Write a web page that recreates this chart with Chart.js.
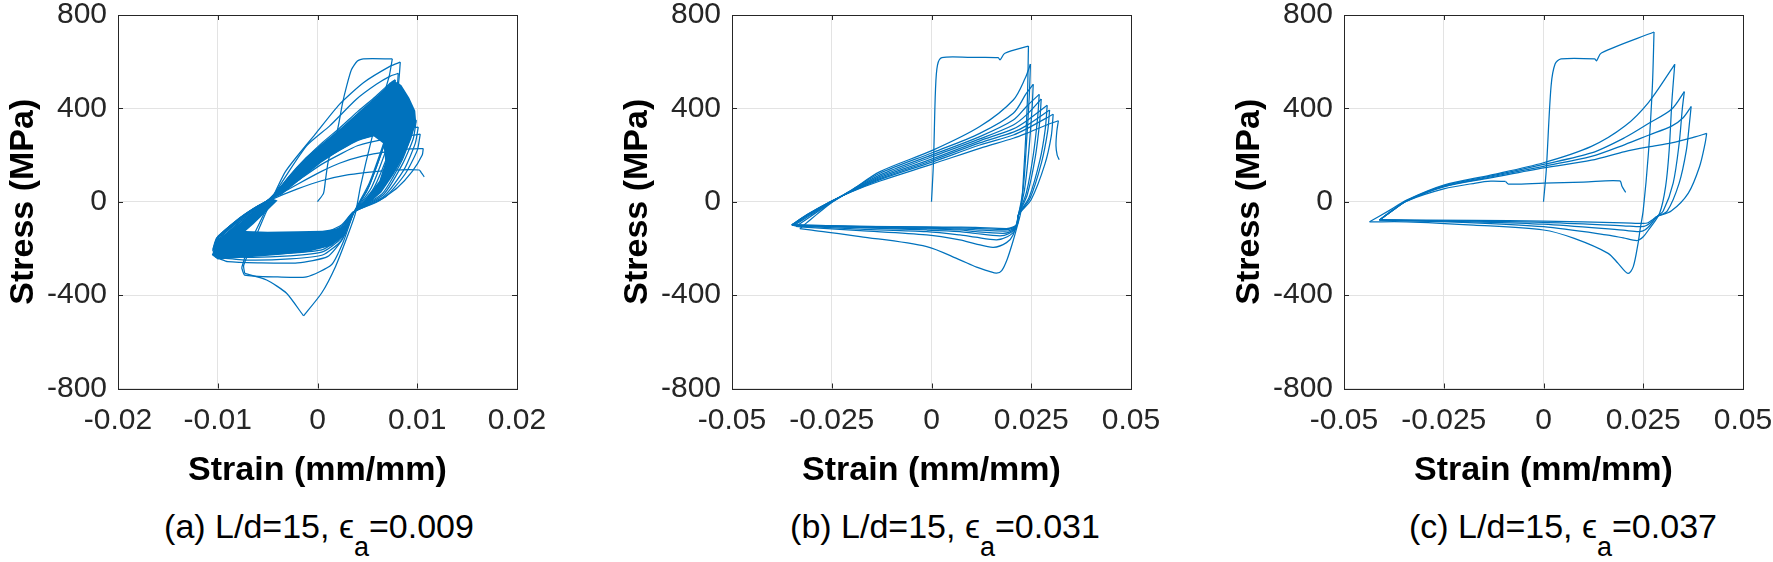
<!DOCTYPE html>
<html>
<head>
<meta charset="utf-8">
<script src="https://cdn.jsdelivr.net/npm/chart.js@4.4.0/dist/chart.umd.min.js"></script>
<style>
  html, body { margin: 0; padding: 0; background: #fff; overflow: hidden; }
  body { width: 1773px; height: 562px; position: relative; font-family: "Liberation Sans", Arial, Helvetica, sans-serif; }
  canvas.panel { position: absolute; top: -20px; }
  .caption { position: absolute; top: 509px; font-size: 34px; line-height: 34px; color: #000; white-space: nowrap; transform: translateX(-50%); }
  .caption .sub { font-size: 27px; position: relative; top: 18px; }
</style>
</head>
<body>
<canvas id="panelA" class="panel"></canvas>
<canvas id="panelB" class="panel"></canvas>
<canvas id="panelC" class="panel"></canvas>
<script>
// tick labels
const stressTicks = [-800, -400, 0, 400, 800];
const strainTicksA = [-0.02, -0.01, 0, 0.01, 0.02];
const strainTicksBC = [-0.05, -0.025, 0, 0.025, 0.05];

// captions
const panelTags = ['(a)', '(b)', '(c)'];
const slenderness = [15, 15, 15];
const strainAmplitude = ['0.009', '0.031', '0.037'];

// ---- panel (a): [strain, stress] ----
const aLoading = [[0,0],[0.0006,36],[0.0008,93],[0.0011,178],[0.0020,307],[0.0025,420],[0.0029,492],[0.0034,565],[0.0040,603],[0.0046,612],[0.0075,612]];
const aFirstCompression = [[0.0075,612],[0.0072,540],[0.0065,435],[0.0054,264],[0.0043,64],[0.0038,-50],[0.0031,-136],[0.0018,-278],[0.0004,-392],[-0.0014,-489]];
const aBuckle = [[-0.0014,-489],[-0.0031,-392],[-0.0051,-335],[-0.0073,-307]];
const aUnload = [
  [[0.0083,598],[0.0081,500],[0.0070,300],[0.0052,80],[0.0036,-50],[0.0026,-170],[0.0014,-270],[-0.0011,-322],[-0.0040,-322],[-0.0073,-314],[-0.0076,-283]],
  [[0.0081,550],[0.0079,450],[0.0068,260],[0.0050,50],[0.0036,-50],[0.0025,-160],[0.0010,-235],[-0.0020,-262],[-0.0060,-262],[-0.0090,-257],[-0.0098,-245]],
  [[0.0078,522],[0.0076,420],[0.0068,260],[0.0052,70],[0.0036,-50],[0.0024,-165],[0.0005,-228],[-0.0028,-245],[-0.0070,-250],[-0.0102,-238]],
  [[0.0082,505],[0.0080,400],[0.0071,250],[0.0054,60],[0.0036,-50],[0.0024,-155],[0.0005,-215],[-0.0028,-232],[-0.0070,-238],[-0.0103,-228]],
  [[0.0086,475],[0.0084,380],[0.0074,240],[0.0056,55],[0.0036,-48],[0.0024,-148],[0.0005,-205],[-0.0028,-220],[-0.0070,-228],[-0.0104,-220]],
  [[0.0090,445],[0.0088,360],[0.0078,225],[0.0058,45],[0.0036,-48],[0.0024,-140],[0.0005,-195],[-0.0028,-210],[-0.0070,-218],[-0.0105,-212]],
  [[0.0094,412],[0.0092,330],[0.0082,200],[0.0062,40],[0.0036,-46],[0.0024,-132],[0.0005,-185],[-0.0028,-200],[-0.0070,-208],[-0.0105,-205]],
  [[0.0097,380],[0.0095,300],[0.0085,180],[0.0065,35],[0.0036,-45],[0.0024,-125],[0.0005,-175],[-0.0028,-190],[-0.0070,-198],[-0.0104,-200]],
  [[0.0099,350],[0.0096,270],[0.0085,160],[0.0066,30],[0.0036,-45],[0.0024,-118],[0.0005,-165],[-0.0028,-180],[-0.0070,-190],[-0.0103,-198]],
  [[0.0101,320],[0.0098,250],[0.0087,140],[0.0067,25],[0.0036,-44],[0.0024,-110],[0.0005,-155],[-0.0028,-170],[-0.0070,-182],[-0.0102,-195]],
  [[0.0103,290],[0.0100,220],[0.0088,120],[0.0068,20],[0.0036,-44],[0.0024,-105],[0.0005,-145],[-0.0028,-160],[-0.0070,-175],[-0.0100,-192]],
  [[0.0106,228],[0.0105,200],[0.0095,130],[0.0080,60],[0.0060,0],[0.0036,-43],[0.0024,-100],[0.0005,-135],[-0.0028,-150],[-0.0070,-168],[-0.0098,-188]]
];
const aReload = [
  [[-0.0073,-307],[-0.0074,-272],[-0.0062,-150],[-0.0051,-40],[-0.0032,130],[-0.0001,296],[0.0022,417],[0.0046,510],[0.0073,581],[0.0083,598]],
  [[-0.0076,-283],[-0.0070,-200],[-0.0058,-90],[-0.0045,20],[-0.0011,239],[0.0012,324],[0.0039,439],[0.0059,503],[0.0073,538],[0.0081,550]],
  [[-0.0098,-245],[-0.0095,-180],[-0.0078,-95],[-0.0060,-35],[-0.0045,25],[-0.0020,150],[0.0004,250],[0.0022,315],[0.0040,385],[0.0058,450],[0.0072,505],[0.0078,522]],
  [[-0.0102,-238],[-0.0098,-175],[-0.0079,-92],[-0.0061,-34],[-0.0046,22],[-0.0020,142],[0.0004,240],[0.0022,300],[0.0040,370],[0.0058,435],[0.0074,490],[0.0082,505]],
  [[-0.0103,-228],[-0.0099,-170],[-0.0079,-90],[-0.0061,-33],[-0.0046,20],[-0.0020,135],[0.0004,228],[0.0022,288],[0.0040,352],[0.0060,418],[0.0078,462],[0.0086,475]],
  [[-0.0104,-220],[-0.0100,-165],[-0.0080,-88],[-0.0062,-32],[-0.0046,18],[-0.0020,128],[0.0004,220],[0.0022,276],[0.0040,335],[0.0060,395],[0.0080,435],[0.0090,445]],
  [[-0.0105,-212],[-0.0101,-160],[-0.0080,-86],[-0.0062,-30],[-0.0046,16],[-0.0020,122],[0.0004,210],[0.0022,264],[0.0040,318],[0.0062,372],[0.0084,402],[0.0094,412]],
  [[-0.0105,-205],[-0.0101,-155],[-0.0081,-84],[-0.0063,-30],[-0.0047,15],[-0.0020,115],[0.0004,200],[0.0022,250],[0.0040,300],[0.0064,345],[0.0088,372],[0.0097,380]],
  [[-0.0104,-200],[-0.0100,-150],[-0.0081,-82],[-0.0063,-28],[-0.0047,14],[-0.0020,108],[0.0004,188],[0.0022,235],[0.0040,280],[0.0066,320],[0.0090,342],[0.0099,350]],
  [[-0.0103,-198],[-0.0099,-148],[-0.0081,-80],[-0.0063,-27],[-0.0047,13],[-0.0020,100],[0.0004,175],[0.0022,220],[0.0040,262],[0.0068,295],[0.0092,314],[0.0101,320]],
  [[-0.0102,-195],[-0.0098,-146],[-0.0081,-79],[-0.0063,-26],[-0.0047,12],[-0.0020,90],[0.0004,160],[0.0022,202],[0.0040,240],[0.0070,270],[0.0094,284],[0.0103,290]],
  [[-0.0100,-192],[-0.0096,-143],[-0.0080,-78],[-0.0062,-25],[-0.0047,10],[-0.0020,75],[0.0004,130],[0.0022,165],[0.0045,195],[0.0070,215],[0.0093,226],[0.0106,228]]
];
const aLast = [[-0.0098,-188],[-0.0094,-140],[-0.0079,-76],[-0.0062,-24],[-0.0047,8],[-0.0020,55],[0.0004,90],[0.0030,115],[0.0060,130],[0.0076,136],[0.0102,136],[0.0104,125],[0.0107,107]];
// solid areas where the many later cycles pile up
const aDenseUpper = [[-0.0046,15],[-0.0030,105],[-0.0012,190],[0.0006,255],[0.0024,318],[0.0042,388],[0.0060,455],[0.0076,520],[0.0084,500],[0.0092,445],[0.0098,390],[0.0099,340],[0.0094,270],[0.0086,190],[0.0076,115],[0.0064,40],[0.0048,-20],[0.0036,-48],[0.0050,20],[0.0062,90],[0.0068,170],[0.0066,250],[0.0056,282],[0.0040,262],[0.0022,218],[0.0004,168],[-0.0018,92],[-0.0036,30]];
const aDenseLower = [[-0.0106,-228],[-0.0100,-165],[-0.0093,-140],[-0.0078,-92],[-0.0062,-35],[-0.0046,15],[-0.0040,5],[-0.0052,-45],[-0.0064,-95],[-0.0072,-125],[-0.0050,-128],[-0.0020,-126],[0.0005,-124],[0.0020,-115],[0.0030,-100],[0.0028,-140],[0.0014,-188],[-0.0010,-215],[-0.0040,-228],[-0.0075,-240],[-0.0100,-247]];

// ---- panel (b) ----
const bLoading = [[0,0],[0.0005,172],[0.0010,480],[0.0015,585],[0.0026,617],[0.0100,618],[0.0167,617],[0.0172,608],[0.0184,636],[0.0243,667]];
const bUnload = [
  [[0.0243,667],[0.0240,420],[0.0232,150],[0.0224,-40],[0.0214,-110],[0.0205,-165],[0.0190,-245],[0.0176,-295],[0.0163,-306],[0.0145,-298],[0.0113,-280],[0.0071,-249],[-0.0012,-192],[-0.0179,-149],[-0.0300,-122],[-0.0330,-115]],
  [[0.0248,590],[0.0245,450],[0.0238,250],[0.0230,60],[0.0218,-56],[0.0205,-140],[0.0188,-175],[0.0155,-195],[0.0110,-180],[0.0071,-163],[-0.0012,-142],[-0.0179,-124],[-0.0321,-109],[-0.0340,-106]],
  [[0.0255,503],[0.0252,400],[0.0244,220],[0.0233,50],[0.0218,-56],[0.0210,-120],[0.0190,-150],[0.0163,-163],[0.0110,-152],[0.0071,-142],[-0.0012,-128],[-0.0179,-117],[-0.0330,-104],[-0.0345,-102]],
  [[0.0270,460],[0.0266,360],[0.0255,200],[0.0238,40],[0.0218,-56],[0.0212,-110],[0.0192,-138],[0.0171,-146],[0.0110,-136],[0.0071,-128],[-0.0012,-121],[-0.0179,-111],[-0.0348,-101]],
  [[0.0275,440],[0.0271,340],[0.0260,190],[0.0240,30],[0.0218,-56],[0.0213,-105],[0.0195,-130],[0.0178,-135],[0.0110,-128],[0.0071,-121],[-0.0012,-116],[-0.0179,-110],[-0.0350,-100]],
  [[0.0290,413],[0.0285,310],[0.0272,180],[0.0245,20],[0.0218,-56],[0.0214,-100],[0.0198,-122],[0.0182,-126],[0.0110,-120],[0.0071,-116],[-0.0012,-113],[-0.0179,-108],[-0.0350,-100]],
  [[0.0296,393],[0.0291,300],[0.0276,170],[0.0247,15],[0.0218,-56],[0.0215,-96],[0.0200,-115],[0.0185,-119],[0.0110,-114],[0.0071,-112],[-0.0012,-110],[-0.0179,-106],[-0.0350,-99]],
  [[0.0305,375],[0.0300,280],[0.0284,160],[0.0250,10],[0.0218,-56],[0.0216,-93],[0.0202,-110],[0.0188,-115],[0.0110,-110],[0.0071,-109],[-0.0012,-108],[-0.0179,-105],[-0.0350,-99]]
];
const bReload = [
  [[-0.0330,-115],[-0.0300,-72],[-0.0254,-8],[-0.0200,50],[-0.0129,129],[0.0005,222],[0.0121,322],[0.0205,436],[0.0235,530],[0.0248,590]],
  [[-0.0340,-106],[-0.0305,-65],[-0.0254,-6],[-0.0200,50],[-0.0129,122],[0.0005,212],[0.0121,293],[0.0205,379],[0.0238,465],[0.0255,503]],
  [[-0.0345,-102],[-0.0308,-62],[-0.0254,-4],[-0.0200,48],[-0.0129,115],[0.0005,203],[0.0121,279],[0.0205,350],[0.0238,408],[0.0270,460]],
  [[-0.0348,-101],[-0.0310,-60],[-0.0254,-3],[-0.0200,47],[-0.0129,109],[0.0005,195],[0.0121,269],[0.0205,329],[0.0238,372],[0.0275,440]],
  [[-0.0350,-100],[-0.0312,-58],[-0.0254,-2],[-0.0200,46],[-0.0129,104],[0.0005,186],[0.0121,261],[0.0205,312],[0.0238,346],[0.0290,413]],
  [[-0.0350,-100],[-0.0312,-57],[-0.0254,-1],[-0.0200,45],[-0.0129,99],[0.0005,179],[0.0121,252],[0.0205,298],[0.0238,326],[0.0296,393]],
  [[-0.0350,-99],[-0.0312,-56],[-0.0254,0],[-0.0200,44],[-0.0129,95],[0.0005,172],[0.0121,243],[0.0205,286],[0.0238,312],[0.0305,375]]
];
const bLast = [[-0.0350,-99],[-0.0312,-55],[-0.0254,0],[-0.0200,43],[-0.0129,89],[0.0005,163],[0.0121,229],[0.0205,272],[0.0238,293],[0.0290,330],[0.0318,347]];
const bTail = [[0.0318,347],[0.0314,300],[0.0312,240],[0.0315,200],[0.0320,180]];

// ---- panel (c) ----
const cLoading = [[0,0],[0.0007,137],[0.0019,496],[0.0029,590],[0.0044,612],[0.0128,612],[0.0133,604],[0.0145,637],[0.0277,727]];
const cUnload = [
  [[0.0277,727],[0.0273,500],[0.0263,209],[0.0250,-36],[0.0242,-120],[0.0237,-178],[0.0225,-278],[0.0212,-307],[0.0187,-264],[0.0162,-221],[0.0077,-157],[0,-121],[-0.0175,-100],[-0.0343,-86],[-0.0436,-86]],
  [[0.0329,589],[0.0322,436],[0.0315,222],[0.0306,65],[0.0291,-49],[0.0263,-121],[0.0250,-150],[0.0235,-166],[0.0200,-155],[0.0162,-143],[0,-107],[-0.0175,-90],[-0.0411,-78]],
  [[0.0353,472],[0.0348,400],[0.0340,250],[0.0325,80],[0.0300,-40],[0.0284,-64],[0.0270,-95],[0.0255,-120],[0.0240,-128],[0.0200,-122],[0,-96],[-0.0175,-86],[-0.0411,-78]],
  [[0.0370,408],[0.0366,340],[0.0358,220],[0.0340,80],[0.0310,-40],[0.0284,-64],[0.0272,-85],[0.0258,-102],[0.0245,-107],[0.0200,-103],[0,-88],[-0.0175,-83],[-0.0411,-78]],
  [[0.0409,293],[0.0405,250],[0.0391,150],[0.0363,37],[0.0320,-40],[0.0284,-64],[0.0275,-75],[0.0262,-90],[0.0250,-93],[0.0200,-90],[0,-83],[-0.0175,-80],[-0.0411,-78]]
];
const cReload = [
  [[-0.0436,-86],[-0.0385,-36],[-0.0343,7],[-0.0250,71],[-0.0133,114],[0,167],[0.0120,237],[0.0204,324],[0.0263,425],[0.0321,568],[0.0329,589]],
  [[-0.0411,-78],[-0.0380,-40],[-0.0343,5],[-0.0250,68],[-0.0133,110],[0,160],[0.0120,209],[0.0204,275],[0.0263,335],[0.0321,396],[0.0353,472]],
  [[-0.0411,-78],[-0.0380,-40],[-0.0343,4],[-0.0250,66],[-0.0133,106],[0,152],[0.0120,194],[0.0204,245],[0.0263,285],[0.0321,324],[0.0350,360],[0.0370,408]],
  [[-0.0411,-78],[-0.0380,-40],[-0.0343,3],[-0.0250,64],[-0.0133,102],[0,145],[0.0120,178],[0.0204,215],[0.0263,235],[0.0321,252],[0.0380,278],[0.0409,293]]
];
const cLast = [[-0.0411,-78],[-0.0380,-38],[-0.0343,3],[-0.0250,55],[-0.0170,80],[-0.0132,88],[-0.0095,87]];
const cTail = [[-0.0095,87],[-0.0088,76],[0,80],[0.0100,84],[0.0191,89],[0.0197,65],[0.0206,40]];

// ---- layout ----
const BLUE = '#0072BD';
const AXIS = '#262626';
const GRID = '#e3e3e3';
const FONT = '"Liberation Sans", Arial, Helvetica, sans-serif';
const TICK_SIZE = 30;
const TITLE_SIZE = 34;
const BOX_W = 399, BOX_H = 373.5;
const Y_AXIS_W = 118, PAD_T = 35, PAD_R = 55, CANVAS_H = 525;
const X_AXIS_H = CANVAS_H - PAD_T - BOX_H;
const boxLefts = [118, 732, 1344];
const captionCenters = [319, 945, 1563];

// unload 1, reload 1, unload 2, reload 2 ...
function alternate(unloads, reloads) {
  const out = [];
  unloads.forEach((u, i) => { out.push(u); if (reloads[i]) out.push(reloads[i]); });
  return out;
}

const frame = {
  id: 'frame',
  afterDraw(chart) {
    const { ctx, chartArea: a, scales: { x, y } } = chart;
    ctx.save();
    ctx.strokeStyle = AXIS;
    ctx.lineWidth = 1;
    ctx.beginPath();
    x.ticks.forEach(t => {
      const px = Math.round(x.getPixelForValue(t.value)) + 0.5;
      ctx.moveTo(px, a.bottom); ctx.lineTo(px, a.bottom - 5);
      ctx.moveTo(px, a.top); ctx.lineTo(px, a.top + 5);
    });
    y.ticks.forEach(t => {
      const py = Math.round(y.getPixelForValue(t.value)) + 0.5;
      ctx.moveTo(a.left, py); ctx.lineTo(a.left + 5, py);
      ctx.moveTo(a.right, py); ctx.lineTo(a.right - 5, py);
    });
    ctx.stroke();
    ctx.strokeRect(Math.round(a.left) + 0.5, Math.round(a.top) + 0.5,
                   Math.round(a.right - a.left), Math.round(a.bottom - a.top));
    ctx.fillStyle = '#000';
    ctx.font = `bold ${TITLE_SIZE}px ${FONT}`;
    ctx.textAlign = 'center';
    ctx.textBaseline = 'alphabetic';
    ctx.fillText('Strain (mm/mm)', (a.left + a.right) / 2, a.bottom + 91);
    ctx.translate(a.left - 94, (a.top + a.bottom) / 2);
    ctx.rotate(-Math.PI / 2);
    ctx.textBaseline = 'middle';
    ctx.fillText('Stress (MPa)', 0, 0);
    ctx.restore();
  }
};

function makePanel(id, boxLeft, xTicks, branches, dense, tension) {
  const cv = document.getElementById(id);
  cv.width = Y_AXIS_W + BOX_W + PAD_R;
  cv.height = CANVAS_H;
  cv.style.left = (boxLeft - Y_AXIS_W) + 'px';

  const datasets = dense.map(poly => ({
    data: poly.map(p => ({ x: p[0], y: p[1] })),
    borderWidth: 0,
    backgroundColor: BLUE,
    fill: 'shape',
    pointRadius: 0,
    tension: 0
  }));
  branches.forEach(br => datasets.push({
    data: br.map(p => ({ x: p[0], y: p[1] })),
    borderColor: BLUE,
    borderWidth: 1.25,
    fill: false,
    pointRadius: 0,
    tension: tension
  }));

  const tickFont = { family: FONT, size: TICK_SIZE };
  new Chart(cv, {
    type: 'line',
    data: { datasets },
    options: {
      responsive: false,
      animation: false,
      events: [],
      layout: { padding: { left: 0, right: PAD_R, top: PAD_T, bottom: 0 } },
      plugins: { legend: { display: false }, tooltip: { enabled: false } },
      scales: {
        x: {
          type: 'linear',
          min: xTicks[0],
          max: xTicks[xTicks.length - 1],
          afterBuildTicks: s => { s.ticks = xTicks.map(v => ({ value: v })); },
          afterFit: s => { s.height = X_AXIS_H; },
          grid: { color: GRID, drawTicks: false },
          border: { display: false },
          ticks: { font: tickFont, color: AXIS, padding: 14, maxRotation: 0, autoSkip: false, callback: v => String(v) }
        },
        y: {
          type: 'linear',
          min: stressTicks[0],
          max: stressTicks[stressTicks.length - 1],
          afterBuildTicks: s => { s.ticks = stressTicks.map(v => ({ value: v })); },
          afterFit: s => { s.width = Y_AXIS_W; },
          grid: { color: GRID, drawTicks: false },
          border: { display: false },
          ticks: { font: tickFont, color: AXIS, padding: 11, autoSkip: false, callback: v => String(v) }
        }
      }
    },
    plugins: [frame]
  });
}

makePanel('panelA', boxLefts[0], strainTicksA,
  [aLoading, aFirstCompression, aBuckle, aReload[0], ...alternate(aUnload, aReload.slice(1)), aLast],
  [aDenseUpper, aDenseLower], 0.2);
makePanel('panelB', boxLefts[1], strainTicksBC,
  [bLoading, ...alternate(bUnload, bReload), bLast, bTail], [], 0.3);
makePanel('panelC', boxLefts[2], strainTicksBC,
  [cLoading, ...alternate(cUnload, cReload), cLast, cTail], [], 0.3);

panelTags.forEach((tag, i) => {
  const div = document.createElement('div');
  div.className = 'caption';
  div.style.left = captionCenters[i] + 'px';
  div.innerHTML = `${tag} L/d=${slenderness[i]}, \u03f5<span class="sub">a</span>=${strainAmplitude[i]}`;
  document.body.appendChild(div);
});
</script>
</body>
</html>
